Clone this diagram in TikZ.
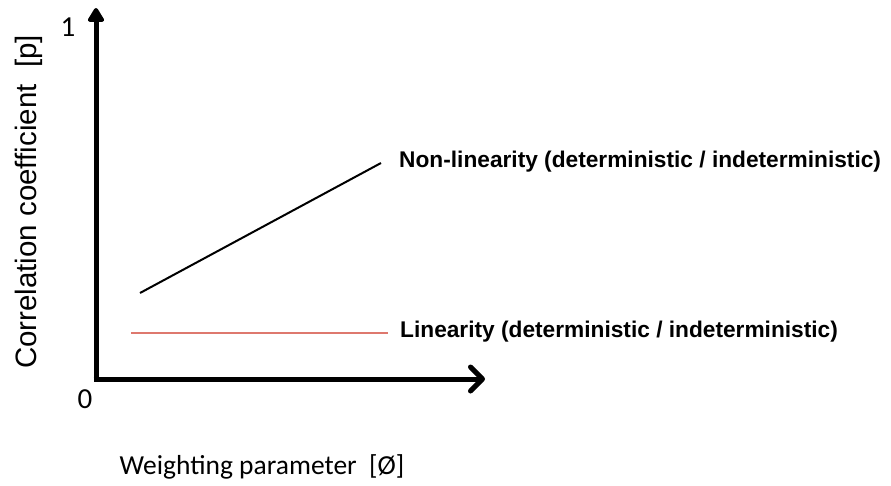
\documentclass[tikz,border=0pt]{standalone}
\usepackage{fontspec}
\setmainfont{Carlito}
\newfontfamily\boldsans{Liberation Sans}
\newfontfamily\plainsans{Liberation Sans}
\usetikzlibrary{arrows.meta}
\definecolor{linred}{RGB}{222,120,110}
\begin{document}
\begin{tikzpicture}[x=1pt,y=-1pt,
  axis/.style={line width=5pt},
  curvelabel/.style={anchor=west,inner sep=0pt,font=\boldsans\bfseries\fontsize{22.7}{26}\selectfont},
  xaxislabel/.style={inner sep=0pt,font=\fontsize{27.5}{32}\selectfont},
  yaxislabel/.style={inner sep=0pt,font=\plainsans\fontsize{29.5}{33}\selectfont},
  ticklabel/.style={inner sep=0pt,font=\fontsize{29}{32}\selectfont}]
\useasboundingbox (0,0) rectangle (891,485);
\coordinate (O) at (96,379);
\coordinate (ytip) at (96,8);
\coordinate (xtip) at (485,379);
\draw[axis,-{Triangle[round,length=16pt,width=18pt]}] ([yshift=-2.5pt]O) -- (ytip);
\draw[axis,-{Straight Barb[round,length=12pt,width=24pt,line width=5pt]}] ([xshift=-2.5pt]O) -- (xtip);
\node[ticklabel] (zero) at (85,399) {0};
\node[ticklabel] (one) at (68,27) {1};
\node[yaxislabel,rotate=90] (ylab) at (29,202) {Correlation coefficient\ \ [p]};
\node[xaxislabel] (xlab) at (262,467) {Weighting parameter\ \ [Ø]};
\coordinate (n1) at (140,293);
\coordinate (n2) at (381,163);
\draw[line width=2pt] (n1) -- (n2);
\coordinate (l1) at (131,333);
\coordinate (l2) at (388,333);
\draw[linred,line width=1.5pt] (l1) -- (l2);
\node[curvelabel] (nonlin) at (399,162) {Non-linearity (deterministic / indeterministic)};
\node[curvelabel] (lin) at (400,332) {Linearity (deterministic / indeterministic)};
\end{tikzpicture}
\end{document}
